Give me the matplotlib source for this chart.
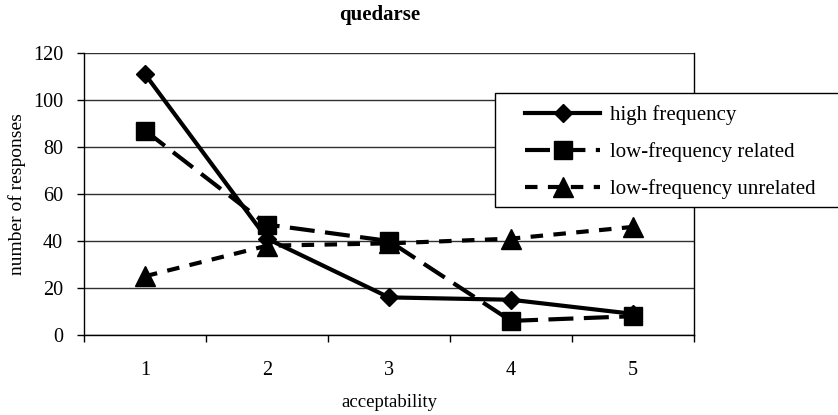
import matplotlib
matplotlib.use("Agg")
import matplotlib.pyplot as plt
from matplotlib.patches import Rectangle
import numpy as np

categories = ["1", "2", "3", "4", "5"]
high_freq = [111, 41, 16, 15, 9]
low_related = [87, 47, 40, 6, 8]
low_unrelated = [25, 38, 39, 41, 46]
yticks = [0, 20, 40, 60, 80, 100, 120]

plt.rcParams['font.family'] = ['Liberation Serif', 'DejaVu Serif']

W, H = 838, 415
fig = plt.figure(figsize=(W/100, H/100), dpi=100)
ax = fig.add_axes([84/W, 80/H, 610/W, 282/H])

x = np.arange(len(categories))
ax.plot(x, high_freq, color='black', lw=3, marker='D', ms=9.5, label='high frequency', zorder=3)
ax.plot(x, low_related, color='black', lw=3, ls=(0, (6, 2.5)), marker='s', ms=13.5, label='low-frequency related', zorder=3)
ax.plot(x, low_unrelated, color='black', lw=3, ls=(0, (3, 2.5)), marker='^', ms=14, label='low-frequency unrelated', zorder=3)

ax.set_xlim(-0.5, len(categories) - 0.5)
ax.set_ylim(0, 120)
ax.set_yticks(yticks)
ax.set_xticks(x)
ax.set_xticklabels(categories)
ax.set_xticks(np.arange(-0.5, len(categories), 1), minor=True)
ax.tick_params(axis='x', which='major', length=0, pad=19, labelsize=14.5)
ax.tick_params(axis='x', which='minor', length=5, direction='out', width=1)
ax.tick_params(axis='y', length=5, direction='out', labelsize=14.5, width=1, pad=10)
ax.yaxis.grid(True, color='#303030', lw=1)
ax.set_axisbelow(True)
for s in ['left', 'bottom', 'right']:
    ax.spines[s].set_color('black')
    ax.spines[s].set_linewidth(1)
ax.spines['top'].set_visible(False)

ax.set_xlabel('acceptability', fontsize=13.5)
ax.xaxis.set_label_coords(389/W, 1 - 402/H, transform=fig.transFigure)
ax.xaxis.label.set_va('center')
ax.set_ylabel('number of responses', fontsize=14)
ax.yaxis.set_label_coords(17/W, 1 - 194/H, transform=fig.transFigure)
ax.yaxis.label.set_va('center')
fig.text(380/W, 1 - 15/H, 'quedarse', ha='center', va='center', fontsize=15, fontweight='bold')

# legend frame (extends past the right edge like the reference)
frame = Rectangle((495/W, 1 - 207/H), 360/W, 114/H, transform=fig.transFigure,
                  facecolor='white', edgecolor='black', lw=1, zorder=4)
fig.patches.append(frame)

leg = fig.legend(loc='upper left', bbox_to_anchor=(525/W, 1 - 105/H), fontsize=15,
                 frameon=False, borderaxespad=0, handlelength=3.6, labelspacing=0.82,
                 borderpad=0, handletextpad=0.5)
leg.set_zorder(5)

fig.savefig('out.png', dpi=100)
